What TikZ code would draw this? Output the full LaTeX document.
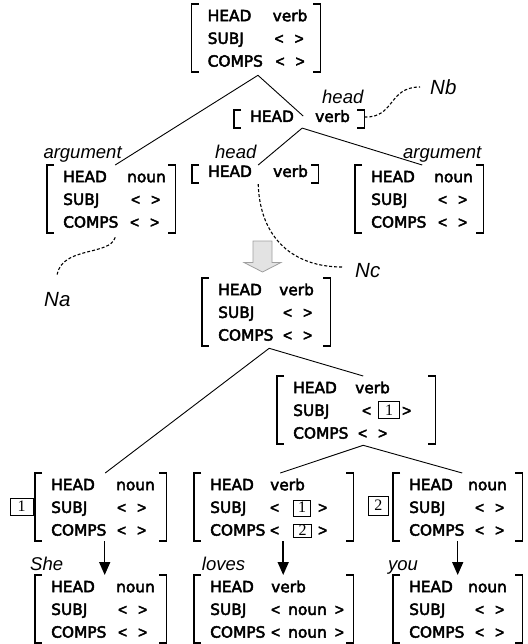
\documentclass[tikz,border=0pt]{standalone}
\usepackage{fontspec}
\setmainfont[FakeBold=3]{DejaVu Sans}
\newfontfamily\labfont{Liberation Sans}
\newfontfamily\ltfont[FakeBold=3]{Liberation Sans}
\newfontfamily\tagfont{Liberation Serif}
\usetikzlibrary{arrows.meta}
\newcommand\avmfont{\fontsize{15.4}{22.7}\selectfont}
\newcommand\rw[3]{\mbox{\makebox[#1pt][l]{#2}#3}}
\newcommand\myLT{{\ltfont<}}
\newcommand\myGT{{\ltfont>}}
\newcommand\ang[1]{\myLT#1\myGT}
\newcommand\tg[4]{{\fboxsep=0pt\fboxrule=0.8pt\framebox[#1pt]{\rule[-#3pt]{0pt}{#2pt}\fontsize{16}{16}\selectfont\tagfont #4}}}
\newcommand\fl{\rule{0pt}{17pt}}
\newcommand\lastl{\rule[-5.5pt]{0pt}{5.5pt}}
\newcommand\emp{\ang{\hspace{11pt}}}
\newcommand\brk[1]{%
  \draw[brkline] ([xshift=7pt]#1.north west) -- (#1.north west) -- (#1.south west) -- ([xshift=7pt]#1.south west);
  \draw[brkline] ([xshift=-7pt]#1.north east) -- (#1.north east) -- (#1.south east) -- ([xshift=-7pt]#1.south east);}
\tikzset{
  avm/.style={anchor=north west, inner xsep=16pt, inner ysep=0pt, align=left, font=\avmfont},
  brkline/.style={line width=1.8pt},
  conn/.style={line width=0.9pt},
  darr/.style={line width=1.5pt, -{Triangle[length=13pt,width=11pt]}},
  dcurve/.style={line width=1.1pt, dash pattern=on 3pt off 2pt},
  lab/.style={font=\fontsize{18.5}{18.5}\selectfont\labfont\itshape, inner sep=0pt, anchor=base west},
  nlab/.style={font=\fontsize{20.5}{20.5}\selectfont\labfont\itshape, inner sep=0pt, anchor=base west},
  tagn/.style={draw, line width=0.8pt, inner sep=0pt, font=\fontsize{16}{16}\selectfont\tagfont, anchor=center},
}
\begin{document}
\begin{tikzpicture}[x=1pt,y=-1pt]
\useasboundingbox (0,0) rectangle (527,644);
% ---------- upper tree ----------
\node[avm, text width=96.5pt] (R1) at (191.5,4) {\fl\rw{65}{HEAD}{verb}\\\rw{67}{SUBJ}{\emp}\\\rw{68}{COMPS}{\emp}\lastl};
\node[avm, text width=98pt] (Nb) at (234,110) {\rule[-6pt]{0pt}{15pt}\rw{65}{HEAD}{verb}};
\node[avm, text width=96pt] (A0) at (47,165) {\fl\rw{64}{HEAD}{noun}\\\rw{68}{SUBJ}{\emp}\\\rw{67}{COMPS}{\emp}\lastl};
\node[avm, text width=94pt] (B0) at (192,165) {\rule[-6pt]{0pt}{16pt}\rw{65}{HEAD}{verb}};
\node[avm, text width=96pt] (C0) at (355,165) {\fl\rw{63}{HEAD}{noun}\\\rw{67}{SUBJ}{\emp}\\\rw{67}{COMPS}{\emp}\lastl};
\brk{R1}\brk{Nb}\brk{A0}\brk{B0}\brk{C0}
\draw[conn] ([shift={(2pt,-3pt)}]R1.south) -- ([xshift=4pt]A0.north);
\draw[conn] ([shift={(2pt,-3pt)}]R1.south) -- ([shift={(4pt,3pt)}]Nb.center);
\draw[conn] ([xshift=3pt]Nb.south) -- ([xshift=3pt]B0.north);
\draw[conn] ([xshift=3pt]Nb.south) -- ([xshift=3pt]C0.north);
\node[lab] (argL) at (43.3,159) {argument};
\node[lab] (headB) at (215,159) {head};
\node[lab] (argR) at (403,159) {argument};
\node[lab] (headN) at (322,104) {head};
% labels N
\node[nlab] (NbL) at (430,95) {Nb};
\node[nlab] (NaL) at (44,306) {Na};
\node[nlab] (NcL) at (355,277) {Nc};
\coordinate (nbEnd) at (420,87);
\coordinate (naEnd) at (57,275);
\coordinate (ncEnd) at (342,267);
\draw[dcurve] ([yshift=2pt]Nb.east) .. controls (395,118) and (388,87) .. (nbEnd);
\draw[dcurve] ([shift={(4pt,-4pt)}]A0.south) .. controls (110,256) and (62,246) .. (naEnd);
\draw[dcurve] ([shift={(3pt,-1pt)}]B0.south) .. controls (260,240) and (295,267) .. (ncEnd);
% block arrow
\draw[fill=gray!22, draw=gray!75, line width=0.8pt] (253,241) -- (272,241) -- (272,262.5) -- (281,262.5) -- (262.5,272) -- (244,262.5) -- (253,262.5) -- cycle;
% ---------- lower tree ----------
\node[avm, text width=96pt] (M) at (202,278) {\fl\rw{61}{HEAD}{verb}\\\rw{65}{SUBJ}{\emp}\\\rw{65}{COMPS}{\emp}\lastl};
\node[avm, text width=126pt] (VP) at (277,376) {\fl\rw{62}{HEAD}{verb}\\\rw{69}{SUBJ}{\ang{\hspace{7pt}\tg{22}{17}{2.5}{1}\hspace{2pt}}}\\\rw{65}{COMPS}{\emp}\lastl};
\node[avm, text width=99pt] (A) at (35,473) {\fl\rw{65}{HEAD}{noun}\\\rw{66}{SUBJ}{\emp}\\\rw{66}{COMPS}{\emp}\lastl};
\node[avm, text width=127pt] (B) at (194,473) {\fl\rw{60}{HEAD}{verb}\\\rw{60}{SUBJ}{\ang{\hspace{14pt}\tg{18}{15}{3}{1}\hspace{7pt}}}\\\rw{60}{COMPS}{\ang{\hspace{14pt}\tg{19}{12}{1}{2}\hspace{6pt}}}\lastl};
\node[avm, text width=97pt] (C) at (393,473) {\fl\rw{59}{HEAD}{noun}\\\rw{66}{SUBJ}{\emp}\\\rw{66}{COMPS}{\emp}\lastl};
\node[avm, text width=99pt] (D) at (35,575) {\fl\rw{65}{HEAD}{noun}\\\rw{67}{SUBJ}{\emp}\\\rw{67}{COMPS}{\emp}\lastl};
\node[avm, text width=127pt] (E) at (194,575) {\fl\rw{61}{HEAD}{verb}\\\rw{61}{SUBJ}{\ang{\hspace{8pt}noun\hspace{8pt}}}\\\rw{61}{COMPS}{\ang{\hspace{8pt}noun\hspace{8pt}}}\lastl};
\node[avm, text width=97pt] (F) at (393,575) {\fl\rw{59}{HEAD}{noun}\\\rw{66}{SUBJ}{\emp}\\\rw{66}{COMPS}{\emp}\lastl};
\brk{M}\brk{VP}\brk{A}\brk{B}\brk{C}\brk{D}\brk{E}\brk{F}
\node[tagn, minimum width=23pt, minimum height=17pt] (t1) at (21.7,506.5) {1};
\node[tagn, minimum width=20pt, minimum height=19pt] (t2) at (378.3,505.5) {2};
\draw[conn] ([shift={(3pt,-2pt)}]M.south) -- ([xshift=4.5pt]A.north);
\draw[conn] ([shift={(3pt,-2pt)}]M.south) -- ([xshift=7pt]VP.north);
\draw[conn] ([shift={(7pt,-1pt)}]VP.south) -- ([xshift=6.5pt]B.north);
\draw[conn] ([shift={(7pt,-1pt)}]VP.south) -- ([xshift=4.5pt]C.north);
\draw[darr] ([xshift=4pt]A.south) -- ([xshift=4pt]D.north);
\draw[darr] ([xshift=9.5pt]B.south) -- ([xshift=9.5pt]E.north);
\draw[darr] ([xshift=0pt]C.south) -- ([xshift=0pt]F.north);
\node[lab] (she) at (30,570) {She};
\node[lab] (loves) at (201.7,570) {loves};
\node[lab] (you) at (388,570) {you};
\end{tikzpicture}
\end{document}
